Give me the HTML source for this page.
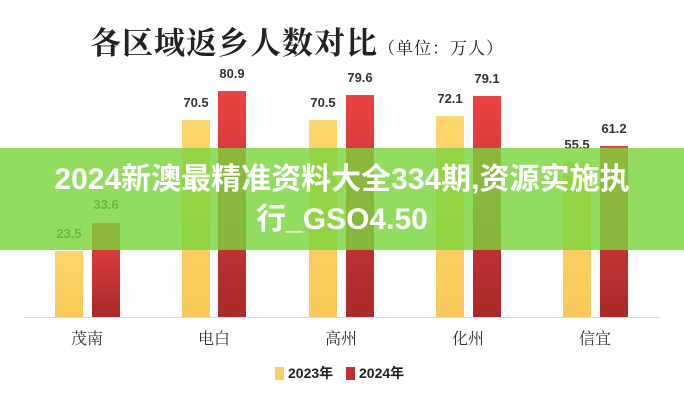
<!DOCTYPE html>
<html><head><meta charset="utf-8"><style>
body{margin:0;width:684px;height:400px;background:#fff;position:relative;overflow:hidden;font-family:"Liberation Sans","Noto Sans CJK SC",sans-serif}
.t{position:absolute;left:90px;top:18px;font-family:"Noto Serif CJK SC",serif;font-weight:bold;font-size:31px;color:#222;letter-spacing:1px;white-space:nowrap}
.t span{font-size:17px;font-weight:normal}
.b{position:absolute;width:28px}
.y{background:linear-gradient(#fdd66c,#f8c95a)}
.r{background:linear-gradient(#ec4242,#a92a2a)}
.v{position:absolute;width:50px;text-align:center;font-weight:bold;font-size:13px;color:#333}
.ax{position:absolute;left:24px;width:636px;top:317px;height:1px;background:#d8d8d8}
.c{position:absolute;top:326px;width:60px;text-align:center;font-family:"Noto Serif CJK SC",serif;font-size:16px;color:#333}
.band{position:absolute;left:0;top:148px;width:684px;height:102px;background:rgba(122,212,60,0.82)}
.bt{position:absolute;left:0;top:160px;width:684px;text-align:center;color:#fff;font-weight:bold;font-size:30px;line-height:40px;font-family:"Liberation Sans","Noto Sans CJK SC",sans-serif}
.lg{position:absolute;top:363px;font-size:14px;font-weight:bold;color:#222}
</style></head><body>
<div class="t">各区域返乡人数对比<span>（单位：万人）</span></div>
<div class="b y" style="left:55px;top:251px;height:66px"></div>
<div class="b r" style="left:92px;top:223px;height:94px"></div>
<div class="b y" style="left:182px;top:120px;height:197px"></div>
<div class="b r" style="left:218px;top:91px;height:226px"></div>
<div class="b y" style="left:309px;top:120px;height:197px"></div>
<div class="b r" style="left:346px;top:95px;height:222px"></div>
<div class="b y" style="left:436px;top:116px;height:201px"></div>
<div class="b r" style="left:473px;top:96px;height:221px"></div>
<div class="b y" style="left:563px;top:162px;height:155px"></div>
<div class="b r" style="left:600px;top:146px;height:171px"></div>
<div class="v" style="left:44px;top:226px">23.5</div>
<div class="v" style="left:81px;top:197px">33.6</div>
<div class="v" style="left:171px;top:95px">70.5</div>
<div class="v" style="left:207px;top:66px">80.9</div>
<div class="v" style="left:298px;top:95px">70.5</div>
<div class="v" style="left:335px;top:70px">79.6</div>
<div class="v" style="left:425px;top:91px">72.1</div>
<div class="v" style="left:462px;top:71px">79.1</div>
<div class="v" style="left:552px;top:137px">55.5</div>
<div class="v" style="left:589px;top:121px">61.2</div>
<div class="ax"></div>
<div class="c" style="left:57px">茂南</div>
<div class="c" style="left:184px">电白</div>
<div class="c" style="left:311px">高州</div>
<div class="c" style="left:438px">化州</div>
<div class="c" style="left:565px">信宜</div>
<div class="band"></div>
<div class="bt">2024新澳最精准资料大全334期,资源实施执<br>行_GSO4.50</div>
<div class="lg" style="left:275px"><span style="display:inline-block;width:9px;height:13px;background:#f8d06a;vertical-align:-2px;margin-right:4px"></span>2023年</div>
<div class="lg" style="left:346px"><span style="display:inline-block;width:9px;height:13px;background:#c03030;vertical-align:-2px;margin-right:4px"></span>2024年</div>
</body></html>
